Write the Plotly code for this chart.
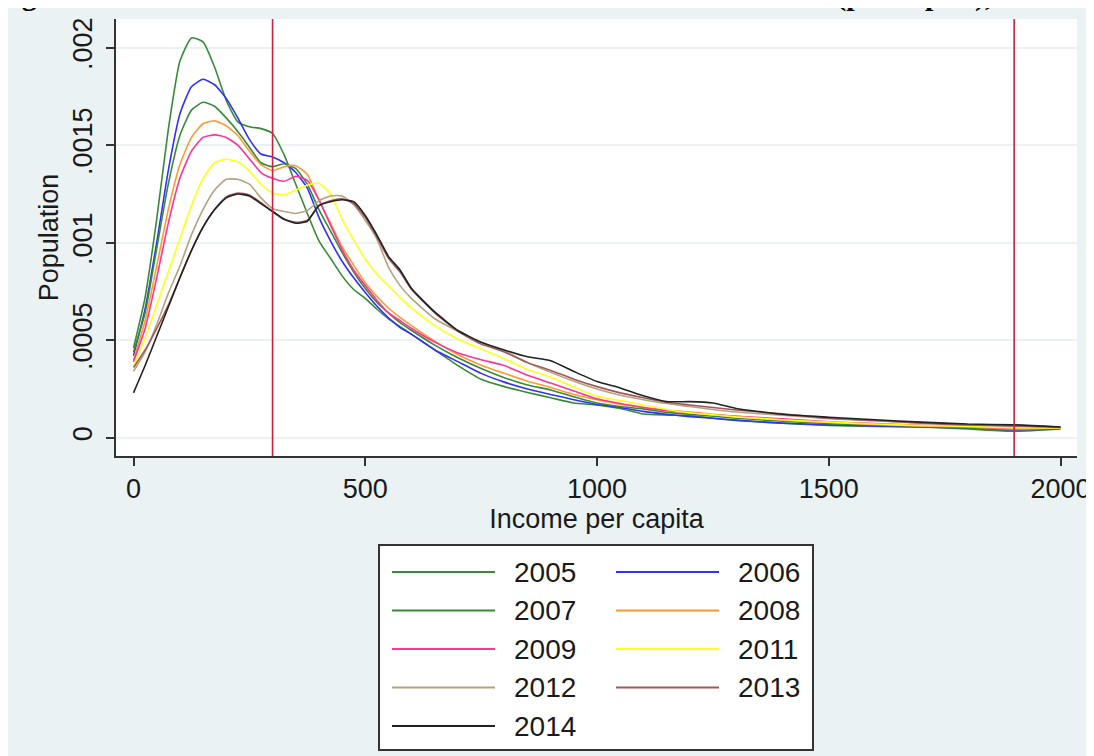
import plotly.graph_objects as go

# ---------------- data ----------------
income = [0, 25, 50, 75, 100, 125, 150, 175, 200, 225, 250, 275, 300, 325, 350, 375,
          400, 425, 450, 475, 500, 525, 550, 575, 600, 650, 700, 750, 800, 850, 900,
          950, 1000, 1050, 1100, 1150, 1200, 1250, 1300, 1400, 1500, 1600, 1700, 1800,
          1900, 2000]

years = ["2005", "2006", "2007", "2008", "2009", "2011", "2012", "2013", "2014"]
colors = ["#378A37", "#3030FF", "#378A37", "#FF9933", "#FF3399", "#FFFF1A",
          "#B5A27E", "#A0585A", "#222222"]

dens_2005 = [0.00046, 0.00072, 0.00112, 0.00158, 0.00193, 0.00205, 0.00203, 0.00190, 0.00173,
             0.00162, 0.001595, 0.001585, 0.00156, 0.00145, 0.00130, 0.00115, 0.00101, 0.00092,
             0.00083, 0.00076, 0.000715, 0.00066, 0.00061, 0.00057, 0.00053, 0.00045, 0.00037,
             0.00030, 0.000262, 0.000232, 0.000205, 0.000178, 0.000168, 0.000150, 0.000122,
             0.000116, 0.000113, 0.000100, 0.000088, 0.000074, 0.000063, 0.000058, 0.000055,
             0.000045, 0.000033, 0.000045]
dens_2006 = [0.00042, 0.00066, 0.00100, 0.00137, 0.00166, 0.00180, 0.001838, 0.00181, 0.00174,
             0.00164, 0.00153, 0.001455, 0.00144, 0.00141, 0.00136, 0.00128, 0.00113, 0.00101,
             0.000905, 0.00082, 0.000745, 0.000675, 0.000615, 0.000565, 0.00053, 0.00045,
             0.00039, 0.00033, 0.000285, 0.00025, 0.000222, 0.000195, 0.00017, 0.000155,
             0.000135, 0.00012, 0.000108, 0.0001, 0.00009, 0.000075, 0.000066, 0.00006,
             0.000055, 0.00005, 0.00004, 0.000048]
dens_2007 = [0.00044, 0.00064, 0.00097, 0.00130, 0.00155, 0.00168, 0.00172, 0.00170, 0.00164,
             0.00157, 0.00149, 0.00141, 0.00139, 0.001405, 0.00138, 0.00130, 0.00117, 0.00106,
             0.00095, 0.00085, 0.000765, 0.000695, 0.00064, 0.00059, 0.00055, 0.000475,
             0.00041, 0.000355, 0.000308, 0.00027, 0.000245, 0.00021, 0.000178, 0.00016,
             0.000148, 0.00013, 0.00012, 0.00011, 0.0001, 0.000085, 0.000072, 0.000065,
             0.000058, 0.00005, 0.000042, 0.00005]
dens_2008 = [0.00040, 0.00060, 0.00088, 0.00117, 0.00140, 0.00154, 0.00161, 0.001625, 0.00160,
             0.00155, 0.00147, 0.00140, 0.00137, 0.00139, 0.001395, 0.00135, 0.00122, 0.00110,
             0.00098, 0.000885, 0.000795, 0.000725, 0.000665, 0.000617, 0.000575, 0.000495,
             0.000425, 0.000372, 0.00033, 0.00029, 0.000258, 0.000222, 0.000195, 0.000172,
             0.000155, 0.000142, 0.000132, 0.00012, 0.00011, 0.00009, 0.000078, 0.000068,
             0.00006, 0.000055, 0.000045, 0.00005]
dens_2009 = [0.00039, 0.00056, 0.00082, 0.00110, 0.00133, 0.00147, 0.00154, 0.001553, 0.00154,
             0.00150, 0.00143, 0.00136, 0.00133, 0.001315, 0.00134, 0.00132, 0.00122, 0.00109,
             0.000965, 0.00086, 0.00078, 0.000705, 0.00064, 0.0006, 0.00056, 0.00049, 0.000435,
             0.0004, 0.00037, 0.00032, 0.00028, 0.00024, 0.0002, 0.000175, 0.000155, 0.000138,
             0.000128, 0.000118, 0.00011, 0.000097, 0.000082, 0.000072, 0.000063, 0.000056,
             0.000048, 0.000052]
dens_2011 = [0.00037, 0.00051, 0.00068, 0.00085, 0.00102, 0.00119, 0.00133, 0.00141, 0.001428,
             0.001415, 0.00137, 0.00130, 0.001255, 0.001245, 0.00127, 0.001295, 0.001305,
             0.00125, 0.00112, 0.001015, 0.000915, 0.00084, 0.00078, 0.00072, 0.000665,
             0.000575, 0.000505, 0.000455, 0.000405, 0.00035, 0.00031, 0.00026, 0.000212,
             0.00019, 0.000168, 0.000145, 0.000128, 0.000118, 0.000107, 0.000092, 0.00008,
             0.00007, 0.000062, 0.000058, 0.00005, 0.00005]
dens_2012 = [0.00034, 0.00044, 0.00058, 0.00074, 0.00088, 0.00104, 0.00117, 0.00127, 0.001325,
             0.001325, 0.00130, 0.00123, 0.001175, 0.00116, 0.00115, 0.001165, 0.001215, 0.00124,
             0.00124, 0.001195, 0.001115, 0.00102, 0.000875, 0.00078, 0.000713, 0.00061,
             0.000546, 0.00049, 0.000445, 0.000385, 0.000335, 0.00029, 0.00025, 0.000218,
             0.000195, 0.000175, 0.00016, 0.000145, 0.000132, 0.000115, 0.000098, 0.000087,
             0.000076, 0.000066, 0.000059, 0.000052]
dens_2013 = [0.00036, 0.00045, 0.00056, 0.00068, 0.00082, 0.00096, 0.00108, 0.00117, 0.001235,
             0.001255, 0.001245, 0.001205, 0.00116, 0.00112, 0.001105, 0.001115, 0.00119,
             0.001215, 0.001225, 0.0012, 0.00113, 0.00103, 0.00092, 0.00085, 0.00076, 0.00064,
             0.000545, 0.00048, 0.00044, 0.000385, 0.000345, 0.0003, 0.000262, 0.00023,
             0.000205, 0.000182, 0.000168, 0.000155, 0.000142, 0.000122, 0.0001, 0.000088,
             0.000075, 0.000065, 0.00006, 0.000055]
dens_2014 = [0.00023, 0.00037, 0.00052, 0.00067, 0.00082, 0.00096, 0.00108, 0.00117, 0.00123,
             0.00125, 0.00124, 0.00120, 0.00116, 0.00112, 0.00110, 0.00111, 0.00119, 0.00121,
             0.00122, 0.00121, 0.00114, 0.00104, 0.00093, 0.00086, 0.000765, 0.000645, 0.00055,
             0.00049, 0.00045, 0.000415, 0.000395, 0.00034, 0.000288, 0.000255, 0.000215,
             0.000185, 0.000185, 0.000178, 0.00015, 0.00012, 0.000105, 0.000092, 0.00008,
             0.00007, 0.000066, 0.000055]

series = [dens_2005, dens_2006, dens_2007, dens_2008, dens_2009,
          dens_2011, dens_2012, dens_2013, dens_2014]

poverty_lines = [300, 1900]

x_ticks = [0, 500, 1000, 1500, 2000]
x_tick_labels = ["0", "500", "1000", "1500", "2000"]
y_ticks = [0, 0.0005, 0.001, 0.0015, 0.002]
y_tick_labels = ["0", ".0005", ".001", ".0015", ".002"]

title_text = "Figure 2: Distribution of the total household income in real terms (per capita), 2005-2014"
x_title = "Income per capita"
y_title = "Population"

# ---------------- geometry (figure pixels; page has an 8px body margin) ----------------
W, H = 1086, 748
ML, MR, MT, MB = 108, 17, 11, 300
PW = W - ML - MR
PH = H - MT - MB
OFF = 8  # page offset of the figure


def fx(px_page):
    return (px_page - OFF - ML) / PW


def fy(py_page):
    return 1 - (py_page - OFF - MT) / PH


FONT = "Liberation Sans, Arial, sans-serif"
TXT = "#1a1a1a"
AX = "#333333"

fig = go.Figure()
for name, ys, col in zip(years, series, colors):
    fig.add_trace(go.Scatter(x=income, y=ys, mode="lines", name=name,
                             line=dict(color=col, width=1.6, shape="spline", smoothing=0.5),
                             showlegend=False))

shapes = []
for v in poverty_lines:
    shapes.append(dict(type="line", xref="x", yref="paper", x0=v, x1=v, y0=0, y1=1,
                       line=dict(color="#C8203E", width=1.6), layer="above"))

# manual legend (page pixel positions)
shapes.append(dict(type="rect", xref="paper", yref="paper",
                   x0=fx(379), x1=fx(813), y0=fy(750), y1=fy(545),
                   fillcolor="white", line=dict(color=AX, width=2)))
annotations = []
row_y0, row_step = 572, 38.5
col_line = [(392, 495), (616, 719)]
col_text = [512, 736]
for i, (name, col) in enumerate(zip(years, colors)):
    r, c = divmod(i, 2)
    yy = fy(row_y0 + r * row_step)
    shapes.append(dict(type="line", xref="paper", yref="paper",
                       x0=fx(col_line[c][0]), x1=fx(col_line[c][1]), y0=yy, y1=yy,
                       line=dict(color=col, width=2)))
    annotations.append(dict(text=name, xref="paper", yref="paper", x=fx(col_text[c]), y=yy,
                            xanchor="left", yanchor="middle", showarrow=False,
                            font=dict(family=FONT, size=28, color=TXT)))

# cropped page title (sits above the figure, only descenders visible)
annotations.append(dict(text="<b>" + title_text + "</b>", xref="paper", yref="paper",
                        x=fx(-7), y=fy(14), xanchor="left", yanchor="bottom",
                        showarrow=False,
                        font=dict(family="Liberation Serif, Times New Roman, serif",
                                  size=30, color="black")))

fig.update_layout(
    width=W, height=H,
    margin=dict(l=ML, r=MR, t=MT, b=MB, autoexpand=False),
    paper_bgcolor="#EAF2F3", plot_bgcolor="white",
    showlegend=False,
    font=dict(family=FONT, size=27, color=TXT),
    shapes=shapes, annotations=annotations,
    xaxis=dict(range=[-37.8, 2035.6], tickvals=x_ticks, ticktext=x_tick_labels,
               ticks="outside", ticklen=8, tickwidth=1.8, tickcolor=AX,
               showline=True, linecolor=AX, linewidth=1.8, showgrid=False, zeroline=False,
               tickfont=dict(size=27, color=TXT),
               title=dict(text=x_title, font=dict(size=27, color=TXT), standoff=0)),
    yaxis=dict(range=[-0.0000938, 0.0021472], tickvals=y_ticks, ticktext=y_tick_labels,
               tickangle=-90, ticks="outside", ticklen=8, tickwidth=1.8, tickcolor=AX,
               showline=True, linecolor=AX, linewidth=1.8, showgrid=True,
               gridcolor="#EAF2F3", gridwidth=1.5, zeroline=False,
               ticklabelstandoff=3,
               tickfont=dict(size=27, color=TXT),
               title=dict(text=y_title, font=dict(size=27, color=TXT), standoff=2)),
)

fig.write_html(
    "out.html",
    post_script=("document.documentElement.style.overflow='hidden';"
                 "document.body.style.overflow='hidden';"),
)
